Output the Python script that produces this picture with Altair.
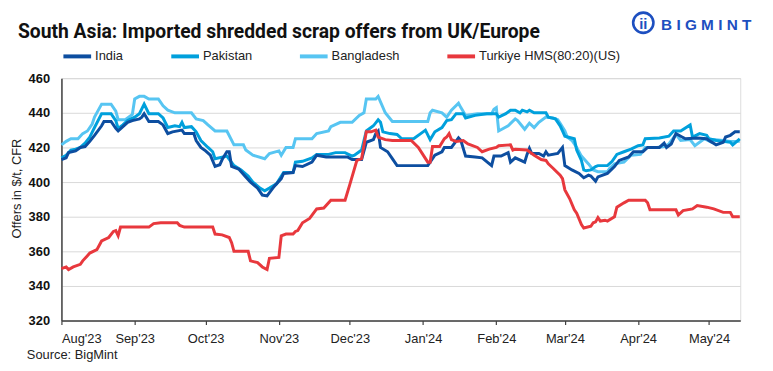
import altair as alt
import pandas as pd

# days since 2023-08-01 and offer values ($/t CFR)
india_day = [0, 2, 3, 6, 8, 10, 12, 14, 17, 18, 21, 23, 24, 26, 28, 30, 33, 34, 35, 37, 41, 43, 45, 47, 51, 52, 56, 57, 59, 61, 63, 65, 67, 68, 70, 71, 72, 75, 78, 80, 83, 85, 87, 90, 93, 94, 98, 99, 102, 106, 108, 112, 121, 123, 127, 129, 132, 133, 134, 135, 138, 140, 142, 155, 158, 161, 162, 165, 168, 169, 171, 175, 178, 182, 183, 186, 189, 190, 192, 196, 197, 198, 199, 202, 204, 205, 206, 210, 212, 213, 216, 219, 221, 223, 224, 226, 227, 231, 234, 236, 240, 242, 246, 248, 253, 255, 256, 258, 260, 262, 264, 269, 273, 274, 277, 280, 281, 283, 285, 287]
india_val = [413, 414, 417, 418, 420, 420.5, 423.5, 427, 432.5, 435, 435, 431, 429.5, 432, 434.5, 435.5, 436.5, 437.5, 439.5, 435, 435, 433, 428, 429, 430, 428, 428, 424, 420, 418, 415.5, 409, 410, 413, 417.5, 417.5, 409, 407.5, 403, 400, 396.5, 392.5, 392, 397.5, 402, 405, 405.5, 409.5, 409, 411.5, 415.5, 414.5, 414.5, 413, 413, 423, 424.5, 428, 429.5, 420, 417.5, 413.5, 409.5, 409.5, 415.5, 417.5, 420, 420, 425.5, 424, 415, 414.5, 414, 409.5, 415, 415, 417, 411.5, 414, 411.5, 416, 419.5, 416.5, 416.5, 415, 417.5, 415.5, 416.5, 420, 409.5, 407, 405, 402.5, 404, 403.5, 400.5, 403, 405, 409, 412.5, 414.5, 417.5, 417.5, 420, 420, 422.5, 420, 422, 428, 426.5, 425, 425.5, 425, 424, 421.5, 423, 426, 427, 429, 429]

pak_day = [0, 2, 4, 6, 8, 10, 12, 14, 17, 21, 23, 24, 26, 28, 31, 33, 35, 37, 41, 43, 45, 48, 50, 51, 52, 55, 57, 59, 62, 64, 65, 70, 73, 76, 79, 81, 84, 86, 88, 91, 94, 98, 99, 102, 106, 108, 113, 116, 120, 123, 124, 127, 129, 132, 134, 135, 136, 139, 142, 144, 149, 152, 154, 156, 158, 161, 163, 165, 167, 170, 171, 175, 180, 184, 185, 188, 190, 192, 194, 195, 197, 198, 200, 205, 206, 209, 211, 212, 213, 217, 218, 220, 221, 222, 224, 226, 227, 231, 233, 235, 238, 241, 244, 246, 247, 253, 257, 259, 262, 266, 267, 270, 273, 274, 277, 280, 283, 284, 287]
pak_val = [414, 415.5, 418.5, 419, 420, 422.5, 426, 431.5, 439.5, 439.5, 435.5, 431, 433, 435.5, 437.5, 439.5, 445, 439.5, 439.5, 437, 431.5, 432.5, 432, 434.5, 431.5, 432, 429, 424, 420, 417.5, 413.5, 415, 409.5, 407, 403.5, 400, 396.5, 395, 396.5, 399, 405.5, 405.5, 411.5, 412, 414, 416, 416, 417, 417, 415, 415.5, 418.5, 429.5, 432.5, 436, 434.5, 429, 428, 427.5, 425, 425, 428, 430, 424.5, 429, 431.5, 435.5, 436, 439.5, 439.5, 437, 438.5, 439.5, 439.5, 437.5, 439.5, 441.5, 441.5, 440, 441.5, 440.5, 441.5, 440, 440, 437.5, 436.5, 432.5, 429.5, 426.5, 425, 418.5, 412.5, 407, 406.5, 407, 409, 409.5, 409.5, 412, 416, 417.5, 419, 421, 421.5, 425, 425.5, 426.5, 429.5, 429.5, 433, 426, 428, 427, 425, 424, 423.5, 423, 421.5, 425]

bd_day = [0, 2, 4, 7, 9, 11, 13, 14, 17, 21, 23, 24, 27, 30, 31, 33, 35, 37, 41, 43, 45, 48, 55, 57, 60, 62, 65, 70, 73, 77, 78, 81, 86, 88, 92, 93, 95, 98, 99, 106, 108, 113, 114, 118, 123, 126, 128, 129, 133, 134, 137, 140, 155, 156, 157, 161, 163, 165, 168, 169, 171, 176, 182, 183, 184, 185, 189, 192, 193, 196, 198, 200, 202, 205, 208, 210, 211, 213, 214, 216, 218, 220, 223, 225, 227, 231, 232, 234, 238, 241, 245, 247, 252, 255, 257, 260, 262, 266, 268, 272, 275, 276, 280, 283, 287]
bd_val = [421.5, 423.5, 425, 425, 428, 429.5, 433.5, 437.5, 445, 445, 441, 436, 436, 439, 448, 449.5, 449.5, 448, 448, 444, 441.5, 440, 440, 436.5, 435.5, 433, 429.5, 429.5, 421.5, 421.5, 418.5, 415.5, 413.5, 416.5, 418, 415.5, 420, 420, 425, 425, 428, 429.5, 432, 434.5, 434.5, 438.5, 440, 448, 448, 449.5, 440, 435, 435, 440, 441.5, 440, 437.5, 441.5, 445.5, 443, 438.5, 439.5, 439.5, 442, 443, 429.5, 432.5, 436.5, 435.5, 430.5, 434, 431.5, 434.5, 437.5, 437, 436, 434, 429.5, 426, 424, 420, 415, 410.5, 407, 406, 406, 408, 410.5, 411.5, 415.5, 416, 420, 420, 420.5, 422, 427.5, 424, 424.5, 421, 425, 423, 424.5, 424, 423.5, 423.5]

tr_day = [0, 2, 3, 5, 8, 9, 11, 12, 15, 17, 20, 22, 23, 24, 25, 37, 39, 42, 49, 50, 52, 64, 65, 68, 71, 72, 73, 75, 79, 80, 83, 85, 87, 88, 92, 93, 95, 98, 99, 100, 102, 105, 108, 111, 114, 120, 122, 125, 127, 129, 131, 133, 134, 137, 140, 148, 151, 155, 156, 157, 160, 162, 163, 164, 165, 167, 170, 172, 176, 178, 181, 184, 185, 190, 191, 192, 197, 200, 203, 205, 206, 208, 211, 212, 213, 215, 217, 218, 220, 221, 224, 225, 226, 227, 228, 230, 231, 234, 235, 238, 240, 243, 247, 248, 249, 260, 261, 263, 267, 269, 273, 276, 280, 283, 284, 287]
tr_val = [350, 351, 349.5, 351, 352.5, 354.5, 357.5, 359, 361, 366, 368, 371.5, 372, 369, 374, 374, 376, 376.5, 376.5, 375, 374, 374, 370, 369.5, 368, 365, 360, 360, 360, 354.5, 353.5, 351, 349.5, 356, 356.5, 369, 370, 370, 371.5, 372, 376.5, 379, 384.5, 385, 389.5, 389.5, 398.5, 412.5, 413.5, 429, 429, 430, 426, 424.5, 424, 424, 420, 411.5, 411.5, 420.5, 420.5, 425, 426, 428, 424.5, 423.5, 424, 422, 420, 417.5, 419, 420, 421, 421.5, 418.5, 419, 418.5, 415.5, 413, 412.5, 410.5, 408, 404, 402, 395.5, 390.5, 384, 382, 375.5, 373.5, 374.5, 376.5, 377, 379.5, 377.5, 378, 377.5, 380, 385.5, 388, 389.5, 389.5, 389.5, 388, 384, 384, 381, 383.5, 384.5, 386.5, 385.5, 384.5, 382.5, 382.5, 380, 380]

series_names = ["India", "Pakistan", "Bangladesh", "Turkiye HMS(80:20)(US)"]
series_colors = ["#0D4EA0", "#00A0DC", "#57C5F2", "#E8383D"]
y_ticks = [320, 340, 360, 380, 400, 420, 440, 460]

start = pd.Timestamp("2023-08-01")
frames = []
for name, days, vals in [
    ("Bangladesh", bd_day, bd_val),
    ("Pakistan", pak_day, pak_val),
    ("India", india_day, india_val),
    ("Turkiye HMS(80:20)(US)", tr_day, tr_val),
]:
    frames.append(pd.DataFrame({
        "date": start + pd.to_timedelta(days, unit="D"),
        "value": vals,
        "series": name,
    }))
df = pd.concat(frames, ignore_index=True)

FONT = "Liberation Sans"
month_ticks = [alt.DateTime(year=y, month=m, date=1) for y, m in
               [(2023, 8), (2023, 9), (2023, 10), (2023, 11), (2023, 12),
                (2024, 1), (2024, 2), (2024, 3), (2024, 4), (2024, 5)]]

lines = alt.Chart(df).mark_line(strokeWidth=3).encode(
    x=alt.X("date:T",
            scale=alt.Scale(domain=[alt.DateTime(year=2023, month=8, date=1),
                                    alt.DateTime(year=2024, month=5, date=14, hours=5)]),
            axis=alt.Axis(values=month_ticks, format="%b'%y", title=None, grid=False,
                          labelFontSize=13, labelColor="#222", labelFont=FONT,
                          tickSize=4, tickColor="#404040", domainColor="#404040",
                          domainWidth=1.5, tickWidth=1.2, labelPadding=8)),
    y=alt.Y("value:Q",
            scale=alt.Scale(domain=[320, 460], nice=False, zero=False),
            axis=alt.Axis(values=y_ticks, title="Offers in $/t, CFR", ticks=False,
                          labelFontSize=13, labelFontWeight="bold", labelColor="#111",
                          labelFont=FONT, labelPadding=12, domainColor="#404040",
                          domainWidth=1.5, gridColor="#D9D9D9", gridWidth=1,
                          titleFontSize=13, titleFontWeight="normal", titleColor="#222",
                          titleFont=FONT, titleAngle=270, titleX=-45, titleY=111,
                          titleAlign="center", titleBaseline="middle")),
    color=alt.Color("series:N",
                    scale=alt.Scale(domain=series_names, range=series_colors),
                    legend=alt.Legend(orient="none", legendX=0, legendY=-38,
                                      direction="horizontal", title=None,
                                      symbolType="stroke", symbolSize=784,
                                      symbolStrokeWidth=4, labelFontSize=13,
                                      labelFont=FONT, labelColor="#222",
                                      labelOffset=2, columnPadding=40, padding=0)),
    detail="series:N",
)

one = alt.Data(values=[{"k": 1}])

title = alt.Chart(one).mark_text(
    align="left", baseline="alphabetic", font="Roboto",
    fontWeight="bold", fontSize=19.5, color="#111",
    text="South Asia: Imported shredded scrap offers from UK/Europe",
).encode(x=alt.value(-44), y=alt.value(-41))

logo_ring = alt.Chart(one).mark_point(
    shape="circle", filled=False, size=420, strokeWidth=2.6, color="#1D4FC0", opacity=1
).encode(x=alt.value(588), y=alt.value(-56))

logo_fig = alt.Chart(one).mark_text(
    align="center", baseline="middle", font=FONT, fontWeight="bold",
    fontSize=15, color="#1D4FC0", text="ii",
).encode(x=alt.value(588), y=alt.value(-55))

logo_text = alt.Chart(one).mark_text(
    align="left", baseline="alphabetic", font=FONT, fontWeight="bold",
    fontSize=15.5, color="#1D4FC0", text="B I G M I N T",
).encode(x=alt.value(606), y=alt.value(-49))

source = alt.Chart(one).mark_text(
    align="left", baseline="alphabetic", font=FONT, fontSize=13, color="#222",
    text="Source: BigMint",
).encode(x=alt.value(-35), y=alt.value(284))

chart = alt.layer(lines, title, logo_ring, logo_fig, logo_text, source).properties(
    width=686, height=245,
    padding={"left": 54, "top": 69, "right": 25, "bottom": 48},
    autosize=alt.AutoSizeParams(type="none"),
).configure_view(stroke=None).configure(font=FONT)

chart.save("out.html", embed_options={"renderer": "svg", "actions": False})
